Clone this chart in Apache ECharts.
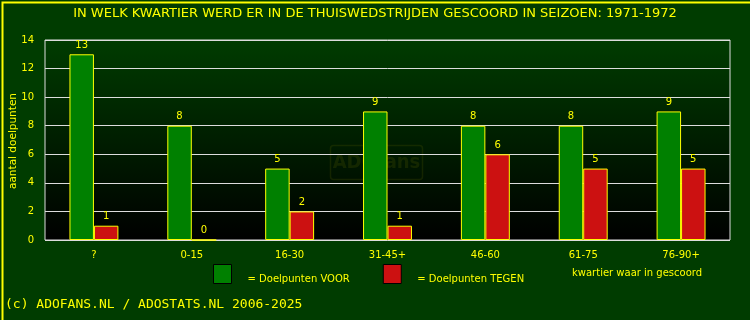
<!DOCTYPE html>
<html><head><meta charset="utf-8">
<script src="https://cdn.jsdelivr.net/npm/echarts@6/dist/echarts.min.js"></script>
<style>html,body{margin:0;padding:0;background:#003c00;}#c{width:750px;height:320px;}</style>
</head><body><div id="c"></div>
<script>
const categories = ['?','0-15','16-30','31-45+','46-60','61-75','76-90+'];
const voor = [13,8,5,9,8,8,9];
const tegen = [1,0,2,1,6,5,5];
const yTicks = {min:0, max:14, interval:2};
const titleText = 'IN WELK KWARTIER WERD ER IN DE THUISWEDSTRIJDEN GESCOORD IN SEIZOEN: 1971-1972';
const yName = 'aantal doelpunten';

const Y = '#ffff00';
const F = 'DejaVu Sans';
const chart = echarts.init(document.getElementById('c'), null, {renderer:'canvas'});
chart.setOption({
  backgroundColor:'#003c00',
  animation:false,
  title:{text:titleText,left:'center',top:7,padding:0,textStyle:{color:Y,fontSize:13,fontWeight:'normal',fontFamily:F}},
  grid:{left:45,right:20,top:40,bottom:80,outerBoundsMode:'none',containLabel:false,show:true,borderColor:'#dddddd',borderWidth:1,
    backgroundColor:new echarts.graphic.LinearGradient(0,0,0,1,[{offset:0,color:'#003c00'},{offset:1,color:'#000000'}])},
  legend:{left:213,top:264,padding:0,icon:'rect',itemWidth:18,itemHeight:19,itemGap:33,
    itemStyle:{borderColor:'#000',borderWidth:1},
    formatter:'{t|{name}}',
    textStyle:{color:Y,fontSize:10,fontFamily:F,padding:[0,0,0,11],
      rich:{t:{color:Y,fontSize:10,fontFamily:F,padding:[10,0,0,0]}}},
    data:['= Doelpunten VOOR','= Doelpunten TEGEN']},
  xAxis:{type:'category',data:categories,
    axisLine:{show:false},axisTick:{show:false},
    axisLabel:{color:Y,fontSize:10,fontFamily:F,margin:10}},
  yAxis:{type:'value',min:yTicks.min,max:yTicks.max,interval:yTicks.interval,
    axisLine:{show:false},axisTick:{show:false},
    axisLabel:{color:Y,fontSize:10,fontFamily:F,margin:11},
    splitLine:{lineStyle:{color:'#dddddd',width:1}}},
  series:[
    {name:'= Doelpunten VOOR',type:'bar',data:voor,barGap:'0%',barCategoryGap:'50%',
     itemStyle:{color:'#008000',borderColor:Y,borderWidth:1},
     label:{show:true,position:'top',color:Y,fontSize:10,fontFamily:F,distance:4}},
    {name:'= Doelpunten TEGEN',type:'bar',data:tegen,
     itemStyle:{color:'#cc1111',borderColor:Y,borderWidth:1},
     label:{show:true,position:'top',color:Y,fontSize:10,fontFamily:F,distance:4}}
  ],
  graphic:[
    {type:'group',left:328,top:143,silent:true,z:-1,children:[
      {type:'rect',shape:{x:0,y:0,width:92,height:34,r:3},style:{fill:'none',stroke:'rgba(90,100,0,0.22)',lineWidth:1.5}},
      {type:'text',style:{x:46,y:17,text:'ADOfans',fill:'rgba(90,100,0,0.22)',font:'bold 20px "DejaVu Sans Condensed"',align:'center',verticalAlign:'middle'}}
    ]},
    {type:'text',x:13,y:141,rotation:Math.PI/2,style:{text:yName,fill:Y,font:'10.5px "DejaVu Sans"',align:'center',verticalAlign:'middle'}},
    {type:'text',left:572,top:268,style:{text:'kwartier waar in gescoord',fill:Y,font:'10px "DejaVu Sans"'}},
    {type:'text',left:5,top:298,style:{text:'(c) ADOFANS.NL / ADOSTATS.NL 2006-2025',fill:Y,font:'13px "DejaVu Sans Mono"'}},
    {type:'rect',left:0,top:0,shape:{x:0,y:0,width:750,height:320},style:{fill:'none',stroke:Y,lineWidth:2},silent:true}
  ]
});
</script></body></html>
